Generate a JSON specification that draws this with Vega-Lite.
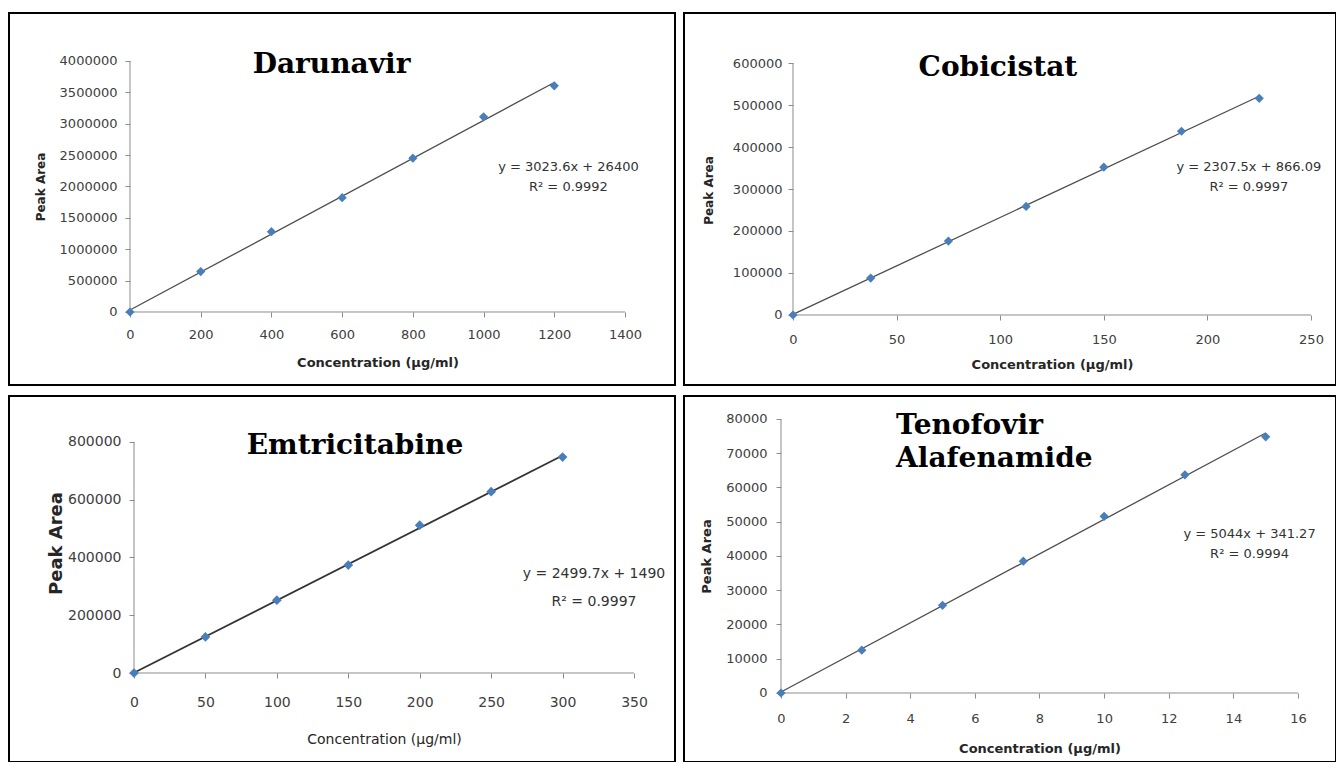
{
  "$schema": "https://vega.github.io/schema/vega-lite/v6.json",
  "padding": {"left": 8, "top": 12, "right": 0, "bottom": 0},
  "background": "white",
  "config": {
    "view": {"stroke": "#000000", "strokeWidth": 2},
    "axis": {
      "labelFont": "DejaVu Sans", "labelColor": "#404040",
      "titleFont": "DejaVu Sans", "titleFontWeight": "bold", "titleColor": "#262626",
      "domain": false, "tickColor": "#8c8c8c", "tickSize": 5,
      "grid": false, "labelFlush": false, "labelOverlap": false,
      "titleBaseline": "middle", "titleAlign": "center"
    }
  },
  "datasets": {
    "darunavir": [
      {"conc": 0, "area": 0}, {"conc": 200, "area": 645000}, {"conc": 400, "area": 1280000},
      {"conc": 600, "area": 1822000}, {"conc": 800, "area": 2452000}, {"conc": 1000, "area": 3110000},
      {"conc": 1200, "area": 3605000}
    ],
    "cobicistat": [
      {"conc": 0, "area": 0}, {"conc": 37.5, "area": 88000}, {"conc": 75, "area": 176000},
      {"conc": 112.5, "area": 258500}, {"conc": 150, "area": 352000}, {"conc": 187.5, "area": 437500},
      {"conc": 225, "area": 516000}
    ],
    "emtricitabine": [
      {"conc": 0, "area": 0}, {"conc": 50, "area": 125000}, {"conc": 100, "area": 252000},
      {"conc": 150, "area": 374000}, {"conc": 200, "area": 512000}, {"conc": 250, "area": 628000},
      {"conc": 300, "area": 748000}
    ],
    "tenofovir": [
      {"conc": 0, "area": 0}, {"conc": 2.5, "area": 12500}, {"conc": 5, "area": 25600},
      {"conc": 7.5, "area": 38500}, {"conc": 10, "area": 51600}, {"conc": 12.5, "area": 63700},
      {"conc": 15, "area": 74800}
    ]
  },
  "columns": 2,
  "spacing": {"row": 11, "column": 9},
  "bounds": "flush",
  "concat": [
    {
      "width": 666, "height": 372,
      "data": {"name": "darunavir"},
      "encoding": {
        "x": {"field": "conc", "type": "quantitative",
          "scale": {"domain": [-342.22, 1541.42], "nice": false, "zero": false},
          "axis": {"title": "Concentration (µg/ml)", "values": [0, 200, 400, 600, 800, 1000, 1200, 1400], "format": "d",
            "offset": -73, "labelFontSize": 13, "labelPadding": 11, "titleFontSize": 13, "titleX": 368.5, "titleY": 50}},
        "y": {"field": "area", "type": "quantitative",
          "scale": {"domain": [-1163347, 4764940], "nice": false, "zero": false},
          "axis": {"title": "Peak Area", "values": [0, 500000, 1000000, 1500000, 2000000, 2500000, 3000000, 3500000, 4000000], "format": "d",
            "offset": -121, "labelFontSize": 13, "labelPadding": 8, "titleFontSize": 12, "titleX": -90, "titleY": 173.5}}
      },
      "layer": [
        {"transform": [{"filter": "datum.conc == 0"}], "mark": {"type": "rule", "color": "#8c8c8c", "strokeWidth": 1},
         "encoding": {"x": {"datum": 0}, "x2": {"datum": 1400}, "y": {"datum": 0}}},
        {"transform": [{"filter": "datum.conc == 0"}], "mark": {"type": "rule", "color": "#8c8c8c", "strokeWidth": 1},
         "encoding": {"x": {"datum": 0}, "y": {"datum": 0}, "y2": {"datum": 4000000}}},
        {"transform": [{"regression": "area", "on": "conc"}],
         "mark": {"type": "line", "color": "#4d4d4d", "strokeWidth": 1.3}},
        {"mark": {"type": "point", "shape": "diamond", "filled": true, "color": "#4a7ebb", "opacity": 1, "size": 85}},
        {"transform": [{"filter": "datum.conc == 0"}],
         "mark": {"type": "text", "font": "DejaVu Serif", "fontWeight": "bold", "fontSize": 28, "color": "#000000", "align": "center", "baseline": "alphabetic"},
         "encoding": {"x": {"datum": 570}, "y": {"datum": 3810000}, "text": {"value": "Darunavir"}}},
        {"transform": [{"filter": "datum.conc == 0"}],
         "mark": {"type": "text", "font": "DejaVu Sans", "fontSize": 13, "color": "#333333", "align": "center", "baseline": "middle", "lineHeight": 20},
         "encoding": {"x": {"datum": 1240}, "y": {"datum": 2311000}, "text": {"value": ["y = 3023.6x + 26400", "R² = 0.9992"]}}}
      ]
    },
    {
      "width": 652, "height": 372,
      "data": {"name": "cobicistat"},
      "encoding": {
        "x": {"field": "conc", "type": "quantitative",
          "scale": {"domain": [-52.606, 262.066], "nice": false, "zero": false},
          "axis": {"title": "Concentration (µg/ml)", "values": [0, 50, 100, 150, 200, 250], "format": "d",
            "offset": -70, "labelFontSize": 13, "labelPadding": 13, "titleFontSize": 13, "titleX": 368, "titleY": 49}},
        "y": {"field": "area", "type": "quantitative",
          "scale": {"domain": [-166667, 719048], "nice": false, "zero": false},
          "axis": {"title": "Peak Area", "values": [0, 100000, 200000, 300000, 400000, 500000, 600000], "format": "d",
            "offset": -109, "labelFontSize": 13, "labelPadding": 6, "titleFontSize": 12, "titleX": -85, "titleY": 177}}
      },
      "layer": [
        {"transform": [{"filter": "datum.conc == 0"}], "mark": {"type": "rule", "color": "#8c8c8c", "strokeWidth": 1},
         "encoding": {"x": {"datum": 0}, "x2": {"datum": 250}, "y": {"datum": 0}}},
        {"transform": [{"filter": "datum.conc == 0"}], "mark": {"type": "rule", "color": "#8c8c8c", "strokeWidth": 1},
         "encoding": {"x": {"datum": 0}, "y": {"datum": 0}, "y2": {"datum": 600000}}},
        {"transform": [{"regression": "area", "on": "conc"}],
         "mark": {"type": "line", "color": "#4d4d4d", "strokeWidth": 1.3}},
        {"mark": {"type": "point", "shape": "diamond", "filled": true, "color": "#4a7ebb", "opacity": 1, "size": 85}},
        {"transform": [{"filter": "datum.conc == 0"}],
         "mark": {"type": "text", "font": "DejaVu Serif", "fontWeight": "bold", "fontSize": 28, "color": "#000000", "align": "center", "baseline": "alphabetic"},
         "encoding": {"x": {"datum": 98.9}, "y": {"datum": 570000}, "text": {"value": "Cobicistat"}}},
        {"transform": [{"filter": "datum.conc == 0"}],
         "mark": {"type": "text", "font": "DejaVu Sans", "fontSize": 13, "color": "#333333", "align": "center", "baseline": "middle", "lineHeight": 20},
         "encoding": {"x": {"datum": 220}, "y": {"datum": 352400}, "text": {"value": ["y = 2307.5x + 866.09", "R² = 0.9997"]}}}
      ]
    },
    {
      "width": 666, "height": 366,
      "data": {"name": "emtricitabine"},
      "encoding": {
        "x": {"field": "conc", "type": "quantitative",
          "scale": {"domain": [-87.5, 378.7], "nice": false, "zero": false},
          "axis": {"title": "Concentration (µg/ml)", "values": [0, 50, 100, 150, 200, 250, 300, 350], "format": "d",
            "offset": -89, "labelFontSize": 14, "labelPadding": 17, "titleFontSize": 14, "titleFontWeight": "normal", "titleX": 375, "titleY": 66}},
        "y": {"field": "area", "type": "quantitative",
          "scale": {"domain": [-308225, 959307], "nice": false, "zero": false},
          "axis": {"title": "Peak Area", "values": [0, 200000, 400000, 600000, 800000], "format": "d",
            "offset": -125, "labelFontSize": 14, "labelPadding": 8, "titleFontSize": 18, "titleX": -78, "titleY": 147}}
      },
      "layer": [
        {"transform": [{"filter": "datum.conc == 0"}], "mark": {"type": "rule", "color": "#8c8c8c", "strokeWidth": 1},
         "encoding": {"x": {"datum": 0}, "x2": {"datum": 350}, "y": {"datum": 0}}},
        {"transform": [{"filter": "datum.conc == 0"}], "mark": {"type": "rule", "color": "#8c8c8c", "strokeWidth": 1},
         "encoding": {"x": {"datum": 0}, "y": {"datum": 0}, "y2": {"datum": 800000}}},
        {"transform": [{"regression": "area", "on": "conc"}],
         "mark": {"type": "line", "color": "#333333", "strokeWidth": 1.8}},
        {"mark": {"type": "point", "shape": "diamond", "filled": true, "color": "#4a7ebb", "opacity": 1, "size": 95}},
        {"transform": [{"filter": "datum.conc == 0"}],
         "mark": {"type": "text", "font": "DejaVu Serif", "fontWeight": "bold", "fontSize": 28, "color": "#000000", "align": "center", "baseline": "alphabetic"},
         "encoding": {"x": {"datum": 154.7}, "y": {"datum": 758400}, "text": {"value": "Emtricitabine"}}},
        {"transform": [{"filter": "datum.conc == 0"}],
         "mark": {"type": "text", "font": "DejaVu Sans", "fontSize": 14, "color": "#333333", "align": "center", "baseline": "middle", "lineHeight": 28},
         "encoding": {"x": {"datum": 322}, "y": {"datum": 342900}, "text": {"value": ["y = 2499.7x + 1490", "R² = 0.9997"]}}}
      ]
    },
    {
      "width": 652, "height": 366,
      "data": {"name": "tenofovir"},
      "encoding": {
        "x": {"field": "conc", "type": "quantitative",
          "scale": {"domain": [-3.00193, 17.17602], "nice": false, "zero": false},
          "axis": {"title": "Concentration (µg/ml)", "values": [0, 2, 4, 6, 8, 10, 12, 14, 16], "format": "d",
            "offset": -69, "labelFontSize": 13, "labelPadding": 14, "titleFontSize": 13, "titleX": 355.5, "titleY": 55}},
        "y": {"field": "area", "type": "quantitative",
          "scale": {"domain": [-20146, 86715], "nice": false, "zero": false},
          "axis": {"title": "Peak Area", "values": [0, 10000, 20000, 30000, 40000, 50000, 60000, 70000, 80000], "format": "d",
            "offset": -97, "labelFontSize": 13, "labelPadding": 9, "titleFontSize": 13, "titleX": -75, "titleY": 160}}
      },
      "layer": [
        {"transform": [{"filter": "datum.conc == 0"}], "mark": {"type": "rule", "color": "#8c8c8c", "strokeWidth": 1},
         "encoding": {"x": {"datum": 0}, "x2": {"datum": 16}, "y": {"datum": 0}}},
        {"transform": [{"filter": "datum.conc == 0"}], "mark": {"type": "rule", "color": "#8c8c8c", "strokeWidth": 1},
         "encoding": {"x": {"datum": 0}, "y": {"datum": 0}, "y2": {"datum": 80000}}},
        {"transform": [{"regression": "area", "on": "conc"}],
         "mark": {"type": "line", "color": "#4d4d4d", "strokeWidth": 1.3}},
        {"mark": {"type": "point", "shape": "diamond", "filled": true, "color": "#4a7ebb", "opacity": 1, "size": 85}},
        {"transform": [{"filter": "datum.conc == 0"}],
         "mark": {"type": "text", "font": "DejaVu Serif", "fontWeight": "bold", "fontSize": 28, "color": "#000000", "align": "left", "baseline": "alphabetic", "lineHeight": 33},
         "encoding": {"x": {"datum": 3.56}, "y": {"datum": 75600}, "text": {"value": ["Tenofovir", "Alafenamide"]}}},
        {"transform": [{"filter": "datum.conc == 0"}],
         "mark": {"type": "text", "font": "DejaVu Sans", "fontSize": 13, "color": "#333333", "align": "center", "baseline": "middle", "lineHeight": 20},
         "encoding": {"x": {"datum": 14.5}, "y": {"datum": 46420}, "text": {"value": ["y = 5044x + 341.27", "R² = 0.9994"]}}}
      ]
    }
  ]
}
